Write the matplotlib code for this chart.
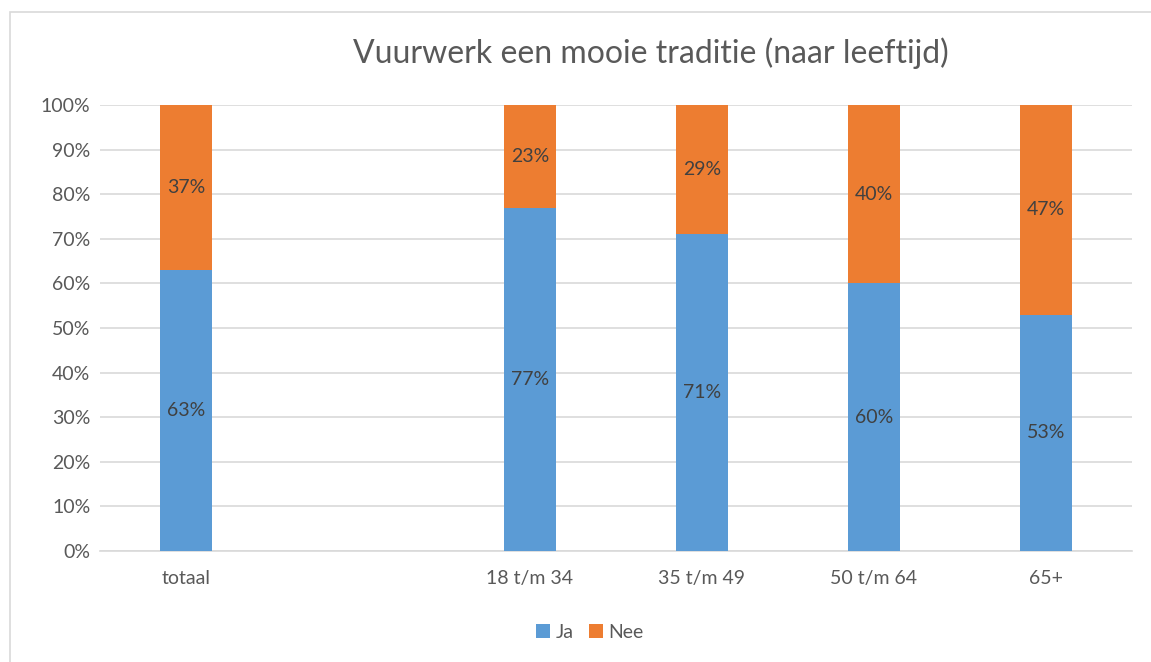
import matplotlib.pyplot as plt
from matplotlib.patches import Rectangle

# data
categories = ["totaal", "", "18 t/m 34", "35 t/m 49", "50 t/m 64", "65+"]
ja = [63, None, 77, 71, 60, 53]
nee = [37, None, 23, 29, 40, 47]

blue = "#5B9BD5"
orange = "#ED7D31"
text_col = "#595959"

plt.rcParams["font.family"] = ["Lato", "DejaVu Sans"]

fig = plt.figure(figsize=(11.51, 6.62), dpi=100)
ax = fig.add_axes([100 / 1151, 111 / 662, 1032 / 1151, 446 / 662])

# outer chart border
fig.patches.append(Rectangle((10 / 1151, -0.01), 1.02, (650 / 662) + 0.01,
                             transform=fig.transFigure, fill=False,
                             edgecolor="#D9D9D9", linewidth=1.2))

xs = [i for i, v in enumerate(ja) if v is not None]
ja_v = [ja[i] for i in xs]
nee_v = [nee[i] for i in xs]

ax.bar(xs, ja_v, width=0.30, color=blue, label="Ja", zorder=3)
ax.bar(xs, nee_v, width=0.30, bottom=ja_v, color=orange, label="Nee", zorder=3)

for x, a, b in zip(xs, ja_v, nee_v):
    ax.text(x, a / 2, f"{a}%", ha="center", va="center", fontsize=14, color="#404040", zorder=4)
    ax.text(x, a + b / 2, f"{b}%", ha="center", va="center", fontsize=14, color="#404040", zorder=4)

ax.set_xlim(-0.5, len(categories) - 0.5)
ax.set_ylim(0, 100)
ax.set_yticks(range(0, 101, 10))
ax.set_yticklabels([f"{t}%" for t in range(0, 101, 10)], fontsize=14, color=text_col)
ax.set_xticks(range(len(categories)))
ax.set_xticklabels(categories, fontsize=14, color=text_col)
ax.tick_params(axis="both", length=0)
ax.tick_params(axis="x", pad=14)
ax.tick_params(axis="y", pad=7)
ax.grid(axis="y", color="#D9D9D9", linewidth=1.2, zorder=0)
for s in ["top", "right", "left"]:
    ax.spines[s].set_visible(False)
ax.spines["bottom"].set_color("#D9D9D9")
ax.spines["bottom"].set_linewidth(1.2)

fig.text(651 / 1151, 1 - 53 / 662, "Vuurwerk een mooie traditie (naar leeftijd)",
         ha="center", va="center", fontsize=23, color=text_col)

fig.legend(loc="center", bbox_to_anchor=(590 / 1151, 1 - 632 / 662), ncol=2,
           frameon=False, fontsize=14, handlelength=0.7, handleheight=0.7,
           handletextpad=0.3, columnspacing=0.8, labelcolor=text_col)

fig.savefig("out.png", dpi=100)
